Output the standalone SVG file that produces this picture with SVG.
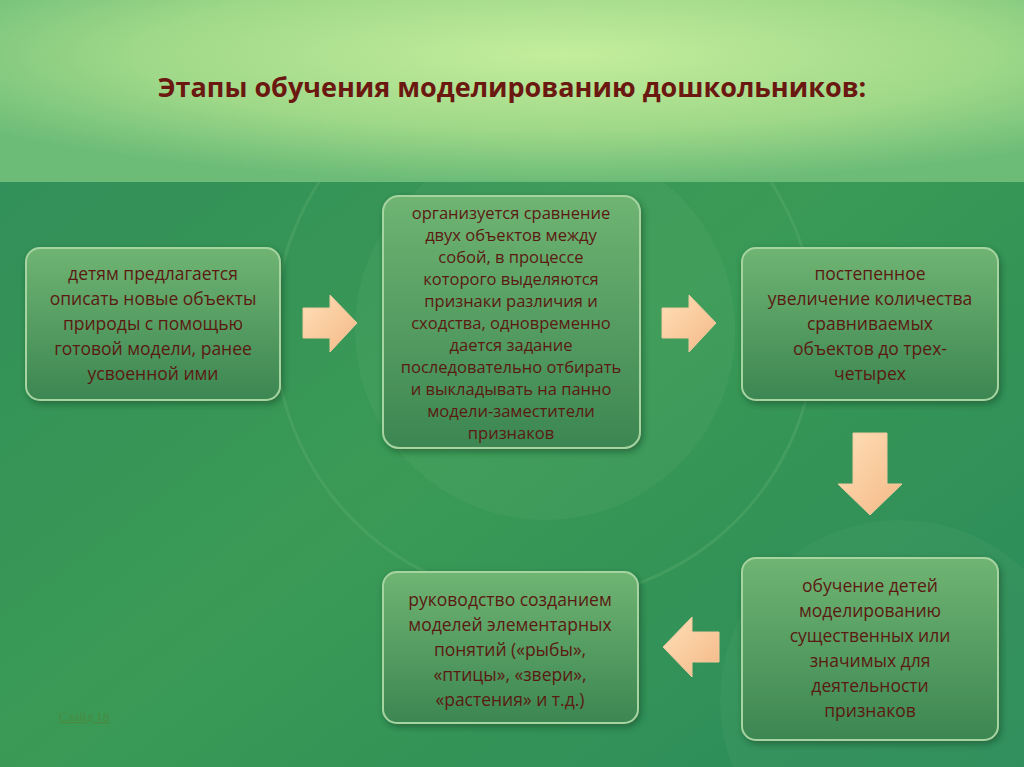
<svg xmlns="http://www.w3.org/2000/svg" width="1024" height="767" viewBox="0 0 1024 767">
<defs>
<radialGradient id="top" cx="0.55" cy="0.3" r="0.7">
<stop offset="0" stop-color="#c4ee9c"/><stop offset="0.6" stop-color="#9ed888"/><stop offset="1" stop-color="#6cbc78"/>
</radialGradient>
<linearGradient id="bot" x1="0" y1="0" x2="1" y2="1">
<stop offset="0" stop-color="#2f8c5a"/><stop offset="0.5" stop-color="#3a9a55"/><stop offset="1" stop-color="#2a8a5a"/>
</linearGradient>
<linearGradient id="box" x1="0" y1="0" x2="0" y2="1">
<stop offset="0" stop-color="#6fb472"/><stop offset="1" stop-color="#3c8652"/>
</linearGradient>
<linearGradient id="arr" x1="0" y1="0" x2="1" y2="1">
<stop offset="0" stop-color="#ffe0b8"/><stop offset="1" stop-color="#f4b886"/>
</linearGradient>
<filter id="sh" x="-10%" y="-10%" width="120%" height="125%"><feDropShadow dx="2" dy="3" stdDeviation="3" flood-color="#0d3a20" flood-opacity="0.5"/></filter>
<style>
.b{fill:url(#box);stroke:#a6d4a0;stroke-width:2;filter:url(#sh)}
.t{font-family:"Open Sans","Liberation Sans",sans-serif;font-size:17.5px;fill:#5a1a12;text-anchor:middle}
.s{font-size:16.5px}
.a{fill:url(#arr);stroke:#f2c9a0;stroke-width:1}
</style>
</defs>
<rect width="1024" height="767" fill="url(#bot)"/>
<circle cx="545" cy="330" r="270" fill="none" stroke="#5fb070" stroke-opacity="0.35" stroke-width="3"/>
<circle cx="545" cy="330" r="190" fill="#6ab878" fill-opacity="0.15"/>
<circle cx="900" cy="700" r="180" fill="#6ab878" fill-opacity="0.12"/>
<rect width="1024" height="182" fill="url(#top)"/>
<text x="512" y="97" font-family="'Open Sans','Liberation Sans',sans-serif" font-size="27" font-weight="bold" fill="#6a1810" text-anchor="middle">Этапы обучения моделированию дошкольников:</text>
<g id="connectors">
<path class="a" d="M303,308 H330 V295 L357,323 L330,352 V338 H303 Z"/>
<path class="a" d="M662,308 H689 V295 L716,323 L689,352 V338 H662 Z"/>
<path class="a" d="M853,433 H887 V484 H902 L870,515 L838,484 H853 Z"/>
<path class="a" d="M719,632 H692 V617 L663,647 L692,677 V662 H719 Z"/>
</g>
<g id="n1"><rect class="b" x="26" y="248" width="254" height="152" rx="14"/>
<text class="t"><tspan x="153" y="280">детям предлагается</tspan><tspan x="153" y="305">описать новые объекты</tspan><tspan x="153" y="330">природы с помощью</tspan><tspan x="153" y="355">готовой модели, ранее</tspan><tspan x="153" y="380">усвоенной ими</tspan></text></g>
<g id="n2"><rect class="b" x="383" y="196" width="257" height="252" rx="16"/>
<text class="t s"><tspan x="511" y="219">организуется сравнение</tspan><tspan x="511" y="241">двух объектов между</tspan><tspan x="511" y="263">собой, в процессе</tspan><tspan x="511" y="285">которого выделяются</tspan><tspan x="511" y="307">признаки различия и</tspan><tspan x="511" y="329">сходства, одновременно</tspan><tspan x="511" y="351">дается задание</tspan><tspan x="511" y="373">последовательно отбирать</tspan><tspan x="511" y="395">и выкладывать на панно</tspan><tspan x="511" y="417">модели-заместители</tspan><tspan x="511" y="439">признаков</tspan></text></g>
<g id="n3"><rect class="b" x="742" y="248" width="256" height="152" rx="14"/>
<text class="t"><tspan x="870" y="280">постепенное</tspan><tspan x="870" y="305">увеличение количества</tspan><tspan x="870" y="330">сравниваемых</tspan><tspan x="870" y="355">объектов до трех-</tspan><tspan x="870" y="380">четырех</tspan></text></g>
<g id="n4"><rect class="b" x="742" y="558" width="256" height="182" rx="14"/>
<text class="t"><tspan x="870" y="592">обучение детей</tspan><tspan x="870" y="617">моделированию</tspan><tspan x="870" y="642">существенных или</tspan><tspan x="870" y="667">значимых для</tspan><tspan x="870" y="692">деятельности</tspan><tspan x="870" y="717">признаков</tspan></text></g>
<g id="n5"><rect class="b" x="383" y="572" width="255" height="151" rx="14"/>
<text class="t"><tspan x="510" y="606">руководство созданием</tspan><tspan x="510" y="631">моделей элементарных</tspan><tspan x="510" y="656">понятий («рыбы»,</tspan><tspan x="510" y="681">«птицы», «звери»,</tspan><tspan x="510" y="706">«растения» и т.д.)</tspan></text></g>
<text x="84" y="721" font-family="'Liberation Serif',serif" font-size="13" fill="#4a8a40" text-anchor="middle" text-decoration="underline">Слайд 18</text>
</svg>
